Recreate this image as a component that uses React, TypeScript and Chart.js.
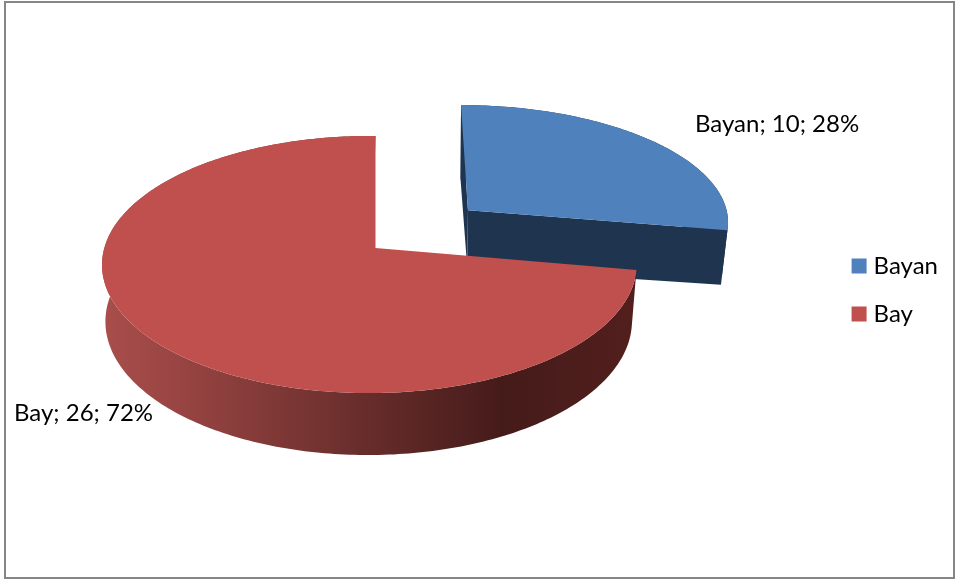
import React, { useEffect, useRef } from "react";
import { Chart, registerables } from "chart.js";

Chart.register(...registerables);

const categories = ["Bayan", "Bay"];
const values = [10, 26];
const topColors = ["#4F81BD", "#C0504D"];
const sideColors = ["#1F354F", "#7A2E2C"];
const labelAnchors = [[695, 124], [14, 413]];
const FONT = "Lato, Carlito, sans-serif";
const TEXT_SIZE = 24;

// Perspective view of the flat pie, per slice: top face and lower face of the disc
const topFaces = [
  { cx: 373, cy: 246, kx: 265, ky: 119, p: 0.08, q: 0 },
  { cx: 375.5, cy: 248, kx: 265, ky: 126.4, p: 0.1285, q: 0.0228 },
];
const lowFaces = [
  { cx: 374.5, cy: 298, kx: 259, ky: 100, p: 0.08, q: 0 },
  { cx: 374, cy: 304, kx: 261, ky: 131.6, p: 0.1285, q: 0.02 },
];

function project(face: any, X: number, Y: number) {
  const w = 1 - face.p * Y + face.q * X;
  return [face.cx + (X * face.kx) / w, face.cy + (Y * face.ky) / w];
}

function rimPoints(a: number, b: number, ox: number, oy: number) {
  const pts: number[][] = [];
  const n = Math.max(8, Math.ceil(Math.abs(b - a) * 60));
  for (let i = 0; i <= n; i++) {
    const t = a + ((b - a) * i) / n;
    pts.push([Math.cos(t) + ox, Math.sin(t) + oy]);
  }
  return pts;
}

function fillPoly(ctx: CanvasRenderingContext2D, pts: number[][], fill: any) {
  ctx.beginPath();
  pts.forEach((p, i) => (i ? ctx.lineTo(p[0], p[1]) : ctx.moveTo(p[0], p[1])));
  ctx.closePath();
  ctx.fillStyle = fill;
  ctx.fill();
}

const pie3d = {
  id: "pie3d",
  beforeDraw(chart: any) {
    const { ctx, width, height } = chart;
    ctx.save();
    ctx.fillStyle = "#FFFFFF";
    ctx.fillRect(0, 0, width, height);
    ctx.strokeStyle = "#868686";
    ctx.lineWidth = 2;
    ctx.strokeRect(5, 2, width - 7, height - 4);
    ctx.restore();
  },
  beforeDatasetsDraw(chart: any) {
    const { ctx } = chart;
    const arcs = chart.getDatasetMeta(0).data;
    const total = values.reduce((s, v) => s + v, 0);
    ctx.save();
    arcs.forEach((arc: any, i: number) => {
      const { startAngle: a, endAngle: b, outerRadius: r } = arc;
      const top = topFaces[i];
      const low = lowFaces[i];
      const mid = (a + b) / 2;
      const d = (arc.options.offset || 0) / r;
      const ox = Math.cos(mid) * d;
      const oy = Math.sin(mid) * d;
      const rim = rimPoints(a, b, ox, oy);
      if (d > 0) {
        // radial faces of the pulled-out slice
        const first = rim[0];
        const last = rim[rim.length - 1];
        fillPoly(ctx, [project(top, ox, oy), project(top, first[0], first[1]), project(low, first[0], first[1]), project(low, ox, oy)], sideColors[i]);
        fillPoly(ctx, [project(top, ox, oy), project(top, last[0], last[1]), project(low, last[0], last[1]), project(low, ox, oy)], sideColors[i]);
      }
      let side: any = sideColors[i];
      if (d === 0) {
        side = ctx.createLinearGradient(104, 0, 636, 0);
        side.addColorStop(0, "#A84E4B");
        side.addColorStop(0.12, "#9B4644");
        side.addColorStop(0.55, "#5F2927");
        side.addColorStop(0.75, "#451B1A");
        side.addColorStop(1, "#521F1D");
      }
      const outer = rim.map((p) => project(top, p[0], p[1]));
      const lower = rim.map((p) => project(low, p[0], p[1])).reverse();
      fillPoly(ctx, outer.concat(lower), side);
      fillPoly(ctx, [project(top, ox, oy)].concat(outer), arc.options.backgroundColor);
    });
    ctx.fillStyle = "#000000";
    ctx.font = `${TEXT_SIZE}px ${FONT}`;
    ctx.textBaseline = "middle";
    ctx.textAlign = "left";
    categories.forEach((c, i) => {
      const pct = Math.round((values[i] / total) * 100);
      ctx.fillText(`${c}; ${values[i]}; ${pct}%`, labelAnchors[i][0], labelAnchors[i][1]);
    });
    ctx.restore();
    return false;
  },
};

export default function App() {
  const ref = useRef<HTMLCanvasElement | null>(null);
  useEffect(() => {
    document.body.style.margin = "0";
    const chart = new Chart(ref.current as any, {
      type: "pie",
      data: {
        labels: categories,
        datasets: [
          {
            data: values,
            backgroundColor: topColors,
            borderWidth: 0,
            offset: [115, 0],
            radius: 240,
          } as any,
        ],
      },
      options: {
        responsive: false,
        animation: false,
        devicePixelRatio: 1,
        layout: { padding: { right: 8 } },
        plugins: {
          tooltip: { enabled: false },
          title: { display: false },
          legend: {
            position: "right",
            labels: {
              boxWidth: 5,
              boxHeight: 5,
              padding: 24,
              color: "#000000",
              font: { family: FONT, size: TEXT_SIZE },
              generateLabels: (chart: any) =>
                categories.map((text, i) => ({
                  text,
                  fillStyle: topColors[i],
                  strokeStyle: topColors[i],
                  lineWidth: 10,
                  hidden: false,
                  index: i,
                })),
            },
          },
        },
      } as any,
      plugins: [pie3d as any],
    });
    return () => chart.destroy();
  }, []);
  return <canvas ref={ref} width={956} height={580} style={{ display: "block", width: 956, height: 580 }} />;
}
